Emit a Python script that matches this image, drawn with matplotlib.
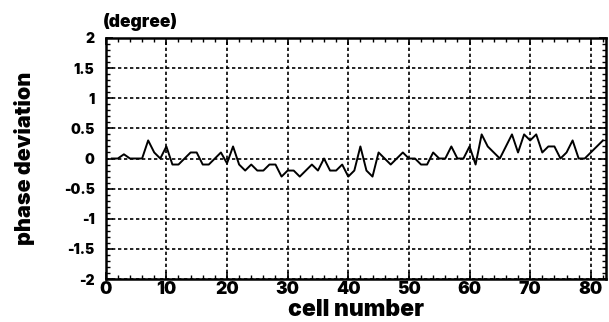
import matplotlib
matplotlib.use('Agg')
import matplotlib.pyplot as plt
from matplotlib.ticker import MultipleLocator

# cell number 1..82 and phase deviation (degree)
cells = list(range(1, 83))
phase = [
    0.0, 0.0, 0.07, 0.0, 0.0, 0.0, 0.3, 0.1, 0.0, 0.2,
    -0.1, -0.1, 0.0, 0.1, 0.1, -0.1, -0.1, 0.0, 0.1, -0.08,
    0.2, -0.1, -0.2, -0.1, -0.2, -0.2, -0.1, -0.1, -0.3, -0.2,
    -0.2, -0.3, -0.2, -0.1, -0.2, 0.0, -0.2, -0.2, -0.1, -0.3,
    -0.2, 0.2, -0.2, -0.3, 0.1, 0.0, -0.1, 0.0, 0.1, 0.0,
    0.0, -0.1, -0.1, 0.1, 0.0, 0.0, 0.2, 0.0, 0.0, 0.2,
    -0.1, 0.4, 0.2, 0.1, 0.0, 0.2, 0.4, 0.1, 0.4, 0.3,
    0.4, 0.1, 0.2, 0.2, 0.0, 0.1, 0.3, 0.0, 0.0, 0.1,
    0.2, 0.3,
]
x_ticks = [0, 10, 20, 30, 40, 50, 60, 70, 80]
y_ticks = [-2, -1.5, -1, -0.5, 0, 0.5, 1, 1.5, 2]
y_tick_labels = ['-2', '-1.5', '-1', '-0.5', '0', '0.5', '1', '1.5', '2']

plt.rcParams['font.family'] = ['Inter', 'DejaVu Sans']
plt.rcParams['font.weight'] = 900

fig = plt.figure(figsize=(6.09, 3.22), dpi=100)
ax = fig.add_axes([0.1736, 0.1335, 0.8214, 0.7485])

ax.plot(cells, phase, color='black', linewidth=1.4)

ax.set_xlim(0, 82.5)
ax.set_ylim(-2, 2)
ax.set_xticks(x_ticks)
ax.set_yticks(y_ticks)
ax.set_yticklabels(y_tick_labels)
ax.xaxis.set_minor_locator(MultipleLocator(2))
ax.yaxis.set_minor_locator(MultipleLocator(0.1))

ax.grid(True, which='major', color='black', linestyle=(0, (2, 1.6)), linewidth=1.2)
ax.tick_params(which='both', direction='in', top=True, right=True, color='black')
ax.tick_params(which='major', length=5, width=1.2)
ax.tick_params(which='minor', length=3, width=1.0)
ax.tick_params(axis='x', which='major', labelsize=12.5, pad=1.5)
ax.tick_params(axis='y', which='major', labelsize=10, pad=8)
for s in ax.spines.values():
    s.set_linewidth(1.8)

ax.set_xlabel('cell number', fontsize=16.5, fontweight=900, labelpad=1)
ax.set_ylabel('phase deviation', fontsize=15.5, fontweight=900, labelpad=21)
ax.text(-0.005, 1.066, '(degree)', transform=ax.transAxes, fontsize=12.5,
        fontweight=900, ha='left', va='center')

fig.savefig('out.png', dpi=100)
